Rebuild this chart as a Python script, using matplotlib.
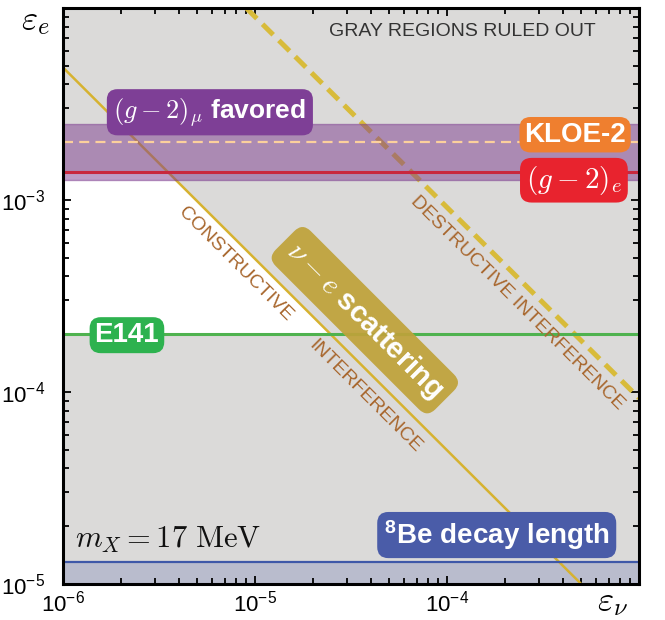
import numpy as np
import matplotlib
matplotlib.use('Agg')
import matplotlib.pyplot as plt
from matplotlib.ticker import LogLocator, FuncFormatter, NullFormatter

plt.rcParams['font.family'] = ['Liberation Sans', 'DejaVu Sans']
plt.rcParams['mathtext.fontset'] = 'cm'

# axis ranges
x_range = [1e-6, 1e-3]
y_range = [1e-5, 1e-2]

# horizontal limits on eps_e
kloe_y = 2.0e-3
ge_y = 1.4e-3
e141_y = 2.0e-4
be8_y = 1.3e-5
gmu_band = [1.27e-3, 2.49e-3]

# nu-e scattering lines (end points)
cons_x = [1e-6, 5e-4]
cons_y = [4.9e-3, 1e-5]
dest_x = [9.0e-6, 1e-3]
dest_y = [1e-2, 9.3e-5]

gray = '#dbdad9'
gold = '#d6b230'
brown = '#a8672e'

fig = plt.figure(figsize=(6.65, 6.2), dpi=100)
ax = fig.add_axes([63/665, 1 - 584/620, 576/665, 576/620])
ax.set_xscale('log')
ax.set_yscale('log')
ax.set_xlim(x_range)
ax.set_ylim(y_range)
ax.set_facecolor(gray)

# white allowed region: below (g-2)_e, above E141, left of constructive line
lx, ly = np.log10(cons_x), np.log10(cons_y)
x_top = 10 ** np.interp(np.log10(ge_y), ly[::-1], lx[::-1])
x_bot = 10 ** np.interp(np.log10(e141_y), ly[::-1], lx[::-1])
ax.fill([x_range[0], x_range[0], x_top, x_bot], [e141_y, ge_y, ge_y, e141_y],
        color='white', lw=0, zorder=1)

# 8Be decay length region
ax.fill_between(x_range, y_range[0], be8_y, color='#b9bccd', lw=0, zorder=1)
ax.axhline(be8_y, color='#3e58a8', lw=1.6, zorder=3)

# nu-e scattering
ax.plot(cons_x, cons_y, color=gold, lw=1.8, zorder=2)
ax.plot(dest_x, dest_y, color='#d8bb3a', lw=3.6, dashes=(3.0, 1.6), zorder=2,
        solid_capstyle='butt')

# (g-2)_mu band
ax.fill_between(x_range, gmu_band[0], gmu_band[1], color='#7d3c8f', alpha=0.5,
                lw=1, edgecolor='#7d3c8f', zorder=3)

ax.axhline(ge_y, color='#c8283e', lw=2.2, zorder=4)
ax.axhline(kloe_y, color='#fcd09c', lw=1.6, dashes=(4.5, 2.8), zorder=4)
ax.axhline(e141_y, color='#4fb24f', lw=2.2, zorder=4)


def decade_label(v, p, top):
    if v >= top * 0.99:
        return ''
    return r'$\mathregular{10^{%d}}$' % round(np.log10(v))


# ticks
for axis, top in ((ax.xaxis, x_range[1]), (ax.yaxis, y_range[1])):
    axis.set_major_locator(LogLocator(base=10, numticks=10))
    axis.set_minor_locator(LogLocator(base=10, subs=np.arange(2, 10), numticks=10))
    axis.set_minor_formatter(NullFormatter())
    axis.set_major_formatter(FuncFormatter(lambda v, p, t=top: decade_label(v, p, t)))
ax.tick_params(which='both', direction='in', top=True, right=True, width=1.3,
               color='black', labelsize=16)
ax.tick_params(which='major', length=6)
ax.tick_params(which='minor', length=4)
ax.tick_params(axis='x', pad=5)
ax.tick_params(axis='y', pad=13)
for sp in ax.spines.values():
    sp.set_linewidth(2.2)
    sp.set_zorder(10)

# axis labels
fig.text(35/665, 1 - 20/620, r'$\varepsilon_e$', fontsize=25, ha='center', va='center')
fig.text(612/665, 1 - 602/620, r'$\varepsilon_\nu$', fontsize=25, ha='center', va='center')


# annotations
def box_label(fx, fy, s, fc, size=18, rot=0, pad=0.25, alpha=1.0):
    ax.text(fx, fy, s, transform=ax.transAxes, ha='center', va='center',
            fontsize=size, fontweight='bold', color='white', rotation=rot,
            rotation_mode='anchor', zorder=8,
            bbox=dict(boxstyle='round,pad=%g,rounding_size=0.4' % pad, fc=fc,
                      ec='none', alpha=alpha))


ax.text(0.694, 0.960, 'GRAY REGIONS RULED OUT', transform=ax.transAxes,
        ha='center', va='center', fontsize=14, color='#333333', zorder=8)
box_label(0.255, 0.819, r'$(g-2)_\mu$ favored', '#7e3f96', size=19)
box_label(0.889, 0.780, 'KLOE-2', '#ef7f2f', size=20, pad=0.17)
box_label(0.887, 0.701, r'$(g-2)_e$', '#e8232e', size=21, pad=0.2)
box_label(0.111, 0.432, 'E141', '#2db24f', size=20, pad=0.18)
box_label(0.524, 0.458, r'$\nu-e$ scattering', '#bfa23a', size=21, rot=-45,
          pad=0.3, alpha=0.93)
box_label(0.753, 0.085, r'$^\mathregular{8}$Be decay length', '#4a5ca8', size=20, pad=0.22)

for fx, fy, s in [(0.299, 0.556, 'CONSTRUCTIVE'),
                  (0.524, 0.325, 'INTERFERENCE'),
                  (0.788, 0.488, 'DESTRUCTIVE INTERFERENCE')]:
    ax.text(fx, fy, s, transform=ax.transAxes, ha='center', va='center',
            fontsize=14, color=brown, rotation=-45, rotation_mode='anchor', zorder=8)

ax.text(0.021, 0.076, r'$m_X = 17\ \mathrm{MeV}$', transform=ax.transAxes,
        ha='left', va='center', fontsize=22, color='#111111', zorder=8)

fig.savefig('out.png', dpi=100)
